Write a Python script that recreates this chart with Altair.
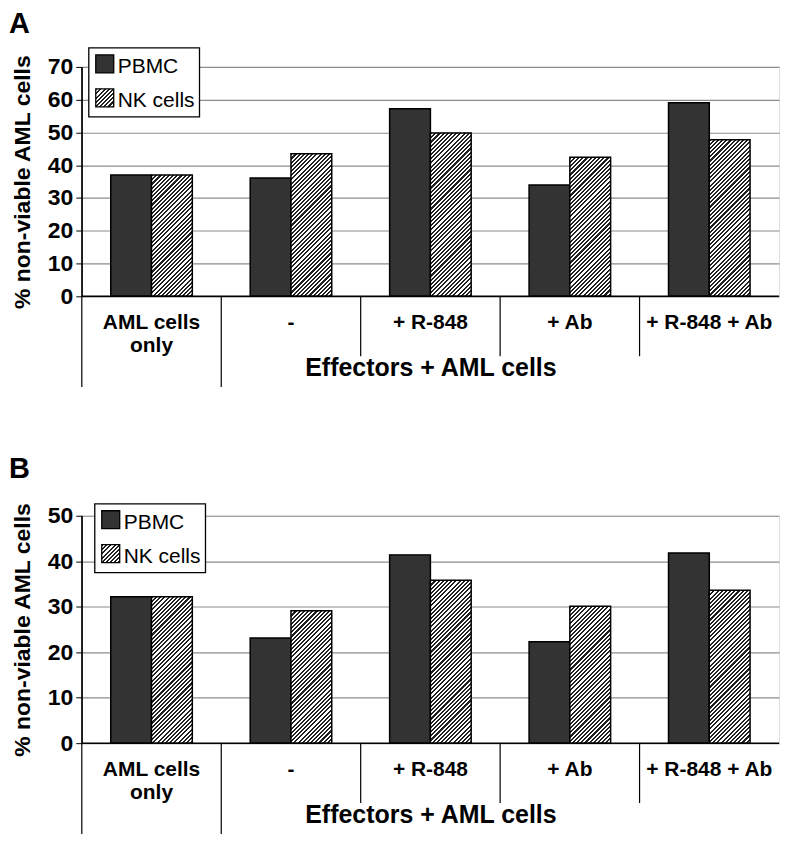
import altair as alt
import pandas as pd

# ---------------- data ----------------
categories = ["AML cells only", "-", "+ R-848", "+ Ab", "+ R-848 + Ab"]
cat_labels = ["AML cells\nonly", "-", "+ R-848", "+ Ab", "+ R-848 + Ab"]
series = ["PBMC", "NK cells"]

pbmc_a = [37.0, 36.1, 57.2, 34.0, 59.1]
nk_a = [37.0, 43.5, 49.8, 42.4, 47.8]
pbmc_b = [32.2, 23.1, 41.4, 22.3, 41.8]
nk_b = [32.2, 29.1, 35.8, 30.1, 33.6]

ticks_a = [0, 10, 20, 30, 40, 50, 60, 70]
ticks_b = [0, 10, 20, 30, 40, 50]

group_label = "Effectors + AML cells"
y_title = "% non-viable AML cells"
panel_letters = ["A", "B"]

# ---------------- style ----------------
FONT = "Liberation Sans"
W = 699
PAD_OUTER = 0.71
STRIPE = 4.2
DARK = "#222222"
PBMC_FILL = "#333333"
GRID = "#8c8c8c"


def hatch(w, h):
    total = w + h
    n = int(total / STRIPE) + 1
    stops = []
    for k in range(n):
        o0 = min(1.0, k * STRIPE / total)
        o1 = min(1.0, (k + 0.5) * STRIPE / total)
        o2 = min(1.0, (k + 1) * STRIPE / total)
        stops += [
            {"offset": o0, "color": DARK},
            {"offset": o1, "color": DARK},
            {"offset": o1, "color": "white"},
            {"offset": o2, "color": "white"},
        ]
    a = total / (w * w + h * h)
    return {"gradient": "linear", "x1": 0, "y1": 0, "x2": a * w, "y2": a * h, "stops": stops}


def panel(letter, pbmc, nk, ticks, H, leg_dx, leg_dy, letter_y):
    ymax = ticks[-1]
    df = pd.DataFrame({
        "cat": categories * 2,
        "label": cat_labels * 2,
        "series": [series[0]] * len(categories) + [series[1]] * len(categories),
        "value": pbmc + nk,
    })
    cats = pd.DataFrame({"cat": categories, "label": cat_labels})
    one = pd.DataFrame({"k": [0]})

    xscale = alt.Scale(domain=categories, paddingInner=0, paddingOuter=0)
    x = alt.X("cat:N", scale=xscale, axis=None)
    xstart = alt.X("cat:N", scale=xscale, axis=None, bandPosition=0)
    xo = alt.XOffset("series:N", scale=alt.Scale(domain=series, paddingInner=0, paddingOuter=PAD_OUTER))
    y = alt.Y(
        "value:Q",
        scale=alt.Scale(domain=[0, ymax], nice=False, zero=True),
        axis=alt.Axis(
            values=ticks, title=y_title,
            titleFont=FONT, titleFontSize=23, titleFontWeight="bold", titleColor="black",
            titleAngle=-90, titleX=-52, titleY=H / 2, titleAlign="center", titleBaseline="alphabetic",
            labelFont=FONT, labelFontSize=23, labelFontWeight="bold", labelColor="black",
            labelPadding=3, tickSize=6, tickColor="black", tickWidth=1,
            domainColor="black", domainWidth=1,
            grid=True, gridColor=GRID, gridWidth=1.2,
        ),
    )

    layers = []
    layers.append(
        alt.Chart(df).transform_filter(alt.datum.series == series[0])
        .mark_bar(fill=PBMC_FILL, stroke="black", strokeWidth=1.5)
        .encode(x=x, xOffset=xo, y=y)
    )
    bw = (W / len(categories)) / (2 + 2 * PAD_OUTER)
    for c, v in zip(categories, nk):
        h = v * H / ymax
        layers.append(
            alt.Chart(df).transform_filter((alt.datum.series == series[1]) & (alt.datum.cat == c))
            .mark_bar(fill=hatch(bw, h), stroke="black", strokeWidth=1.5)
            .encode(x=x, xOffset=xo, y=y)
        )

    # baseline (x axis line)
    layers.append(alt.Chart(one).mark_rule(color="black", strokeWidth=1.5)
                  .encode(x=alt.value(0), x2=alt.value(W), y=alt.value(H)))
    # left line extension
    layers.append(alt.Chart(one).mark_rule(color="black", strokeWidth=1.2)
                  .encode(x=alt.value(0), y=alt.value(0), y2=alt.value(H + 91)))
    # long divider (start of effectors group)
    layers.append(alt.Chart(cats).transform_filter(alt.datum.cat == categories[1])
                  .mark_rule(color="black", strokeWidth=1.2)
                  .encode(x=xstart, y=alt.value(H), y2=alt.value(H + 91)))
    # short dividers
    layers.append(alt.Chart(cats).transform_filter(
        alt.FieldOneOfPredicate(field="cat", oneOf=categories[2:]))
        .mark_rule(color="black", strokeWidth=1.2)
        .encode(x=xstart, y=alt.value(H), y2=alt.value(H + 60)))
    # category labels
    layers.append(alt.Chart(cats).mark_text(
        font=FONT, fontSize=21, fontWeight="bold", color="black", align="center",
        baseline="alphabetic", lineBreak="\n", lineHeight=23)
        .encode(x=x, y=alt.value(H + 33), text="label:N"))
    # group label
    layers.append(alt.Chart(one).mark_text(
        text=group_label, font=FONT, fontSize=25, fontWeight="bold", color="black",
        align="center", baseline="alphabetic")
        .encode(x=alt.value(350), y=alt.value(H + 80)))
    # panel letter
    layers.append(alt.Chart(one).mark_text(
        text=letter, font=FONT, fontSize=29, fontWeight="bold", color="black",
        align="left", baseline="alphabetic")
        .encode(x=alt.value(-73), y=alt.value(letter_y)))

    # legend (box, swatches, labels)
    bx0, by0 = 7 + leg_dx, -19 + leg_dy
    layers.append(alt.Chart(one).mark_rect(fill="white", stroke="black", strokeWidth=1.3)
                  .encode(x=alt.value(bx0), x2=alt.value(bx0 + 111),
                          y=alt.value(by0), y2=alt.value(by0 + 69)))
    sw = 18
    for i, s in enumerate(series):
        sy = by0 + 7 + i * 34
        fill = PBMC_FILL if i == 0 else hatch(sw, sw)
        layers.append(alt.Chart(one).mark_rect(fill=fill, stroke="black", strokeWidth=1.3)
                      .encode(x=alt.value(bx0 + 7), x2=alt.value(bx0 + 7 + sw),
                              y=alt.value(sy), y2=alt.value(sy + sw)))
        layers.append(alt.Chart(one).mark_text(
            text=s, font=FONT, fontSize=21, color="black", align="left", baseline="alphabetic")
            .encode(x=alt.value(bx0 + 29), y=alt.value(sy + sw)))

    return alt.layer(*layers).properties(width=W, height=H)


pa = panel(panel_letters[0], pbmc_a, nk_a, ticks_a, 230, 0, 0, -34)
pb = panel(panel_letters[1], pbmc_b, nk_b, ticks_b, 228, 6, 7, -38)

chart = (
    alt.vconcat(pa, pb, spacing=220, bounds="flush")
    .properties(padding=0)
    .configure_view(stroke=None)
    .configure(font=FONT)
)

chart.save("out.html", embed_options={"renderer": "svg", "actions": False})
